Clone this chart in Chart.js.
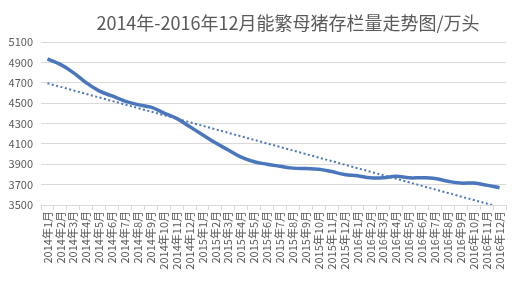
<!DOCTYPE html>
<html>
<head>
<meta charset="utf-8">
<script src="https://cdn.jsdelivr.net/npm/chart.js@4"></script>
<style>
  html, body { margin: 0; padding: 0; background: #fff; }
  #wrap { width: 518px; height: 282px; position: relative; }
</style>
</head>
<body>
<div id="wrap"><canvas id="sowChart"></canvas></div>
<script>
const chartTitle = "2014年-2016年12月能繁母猪存栏量走势图/万头";

const months = [
  "2014年1月", "2014年2月", "2014年3月", "2014年4月", "2014年5月", "2014年6月",
  "2014年7月", "2014年8月", "2014年9月", "2014年10月", "2014年11月", "2014年12月",
  "2015年1月", "2015年2月", "2015年3月", "2015年4月", "2015年5月", "2015年6月",
  "2015年7月", "2015年8月", "2015年9月", "2015年10月", "2015年11月", "2015年12月",
  "2016年1月", "2016年2月", "2016年3月", "2016年4月", "2016年5月", "2016年6月",
  "2016年7月", "2016年8月", "2016年9月", "2016年10月", "2016年11月", "2016年12月",
];

// 能繁母猪存栏量（万头）
const sowStock = [
  4935, 4880, 4800, 4700, 4620, 4570, 4520, 4485, 4460, 4405, 4350, 4270,
  4190, 4110, 4040, 3970, 3925, 3900, 3880, 3862, 3858, 3852, 3828, 3800,
  3788, 3767, 3767, 3783, 3767, 3767, 3760, 3733, 3715, 3715, 3695, 3670,
];

const yTicks = { min: 3500, max: 5100, step: 200 };

// linear trendline (least squares), like Excel's
function linearTrend(values) {
  const n = values.length;
  let sx = 0, sy = 0, sxy = 0, sxx = 0;
  values.forEach((v, i) => {
    sx += i; sy += v; sxy += i * v; sxx += i * i;
  });
  const slope = (n * sxy - sx * sy) / (n * sxx - sx * sx);
  const intercept = (sy - slope * sx) / n;
  return values.map((_, i) => intercept + slope * i);
}

const titlePlugin = {
  id: "sheetTitle",
  afterDraw(chart) {
    const ctx = chart.ctx;
    ctx.save();
    ctx.font = '18px "Noto Sans CJK SC", "Noto Sans", sans-serif';
    ctx.fillStyle = "#595959";
    ctx.textAlign = "center";
    ctx.textBaseline = "middle";
    ctx.fillText(chartTitle, 288, 23);
    ctx.restore();
  },
};

const blue = "#4a76bb";
const tickFont = { family: '"Noto Sans CJK SC", "Liberation Sans", sans-serif', size: 11 };

new Chart(document.getElementById("sowChart").getContext("2d"), {
  type: "line",
  data: {
    labels: months,
    datasets: [
      {
        label: "能繁母猪存栏量",
        data: sowStock,
        borderColor: blue,
        backgroundColor: blue,
        borderWidth: 3.5,
        tension: 0.4,
        pointRadius: 0,
      },
      {
        label: "线性趋势",
        data: linearTrend(sowStock),
        borderColor: blue,
        borderWidth: 2,
        borderDash: [2, 2.5],
        pointRadius: 0,
        tension: 0,
      },
    ],
  },
  options: {
    responsive: true,
    maintainAspectRatio: false,
    animation: false,
    devicePixelRatio: 1,
    layout: { padding: { top: 42, right: 12, left: 0, bottom: 0 } },
    plugins: {
      legend: { display: false },
      title: { display: false },
      tooltip: { enabled: false },
    },
    scales: {
      x: {
        offset: true,
        grid: {
          offset: true,
          drawOnChartArea: false,
          color: "#d9d9d9",
          tickLength: 5,
        },
        border: { color: "#d9d9d9" },
        ticks: {
          autoSkip: false,
          minRotation: 90,
          maxRotation: 90,
          color: "#595959",
          font: tickFont,
          padding: 1,
        },
        afterFit(scale) { scale.height = 77; },
      },
      y: {
        min: yTicks.min,
        max: yTicks.max,
        ticks: {
          stepSize: yTicks.step,
          color: "#595959",
          font: tickFont,
          padding: 8,
          callback: (v) => String(v),
        },
        grid: { color: "#d9d9d9", drawTicks: false },
        border: { display: false },
        afterFit(scale) { scale.width = 41; },
      },
    },
  },
  plugins: [titlePlugin],
});
</script>
</body>
</html>
